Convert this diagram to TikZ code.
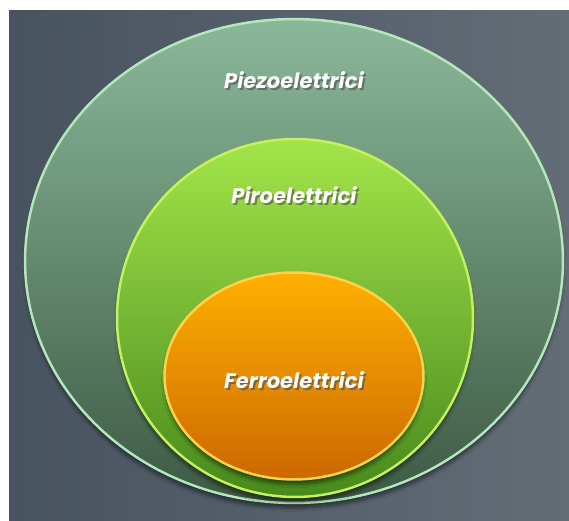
\documentclass[tikz,border=0pt]{standalone}
\usepackage{fontspec}
\setsansfont{Poppins}
\usetikzlibrary{shapes.geometric,shadows.blur}
\definecolor{bgdark}{HTML}{47535F}
\definecolor{bglight}{HTML}{646D76}
\definecolor{piezotop}{HTML}{8BB898}
\definecolor{piezobot}{HTML}{3D5A44}
\definecolor{piezoline}{HTML}{B4E8BC}
\definecolor{pirotop}{HTML}{A4E44A}
\definecolor{pirobot}{HTML}{478A1C}
\definecolor{piroline}{HTML}{C4F25C}
\definecolor{ferrotop}{HTML}{FFB000}
\definecolor{ferrobot}{HTML}{CC6800}
\definecolor{ferroline}{HTML}{FFD24A}

\begin{document}
\begin{tikzpicture}[x=0.02cm, y=-0.02cm,
    setshape/.style={ellipse, inner sep=0pt, line width=1.4pt,
      blur shadow={shadow xshift=0pt, shadow yshift=-3pt, shadow blur steps=6, shadow opacity=45}},
    setlabel/.style={font=\sffamily\bfseries\itshape\fontsize{12}{14}\selectfont, text=white},
    setshadow/.style={setlabel, text=black!70, opacity=0.6}
]
\useasboundingbox (0,0) rectangle (569,521);
% background
\shade[left color=bgdark, right color=bglight] (9,10) rectangle (569,521);

% the three sets
\node[setshape, top color=piezotop, bottom color=piezobot, draw=piezoline,
      minimum width=10.76cm, minimum height=9.68cm] (piezo) at (294,261) {};
\node[setshape, top color=pirotop, bottom color=pirobot, draw=piroline,
      minimum width=7.12cm, minimum height=7.16cm] (piro) at (295,318) {};
\node[setshape, top color=ferrotop, bottom color=ferrobot, draw=ferroline,
      minimum width=5.18cm, minimum height=4.14cm] (ferro) at (294,376) {};

% labels
\node[setshadow] at (296,82) {Piezoelettrici};
\node[setlabel] (piezolbl) at (294,80) {Piezoelettrici};
\node[setshadow] at (296,197) {Piroelettrici};
\node[setlabel] (pirolbl) at (294,195) {Piroelettrici};
\node[setshadow] at (296,382) {Ferroelettrici};
\node[setlabel] (ferrolbl) at (294,380) {Ferroelettrici};
\end{tikzpicture}
\end{document}
